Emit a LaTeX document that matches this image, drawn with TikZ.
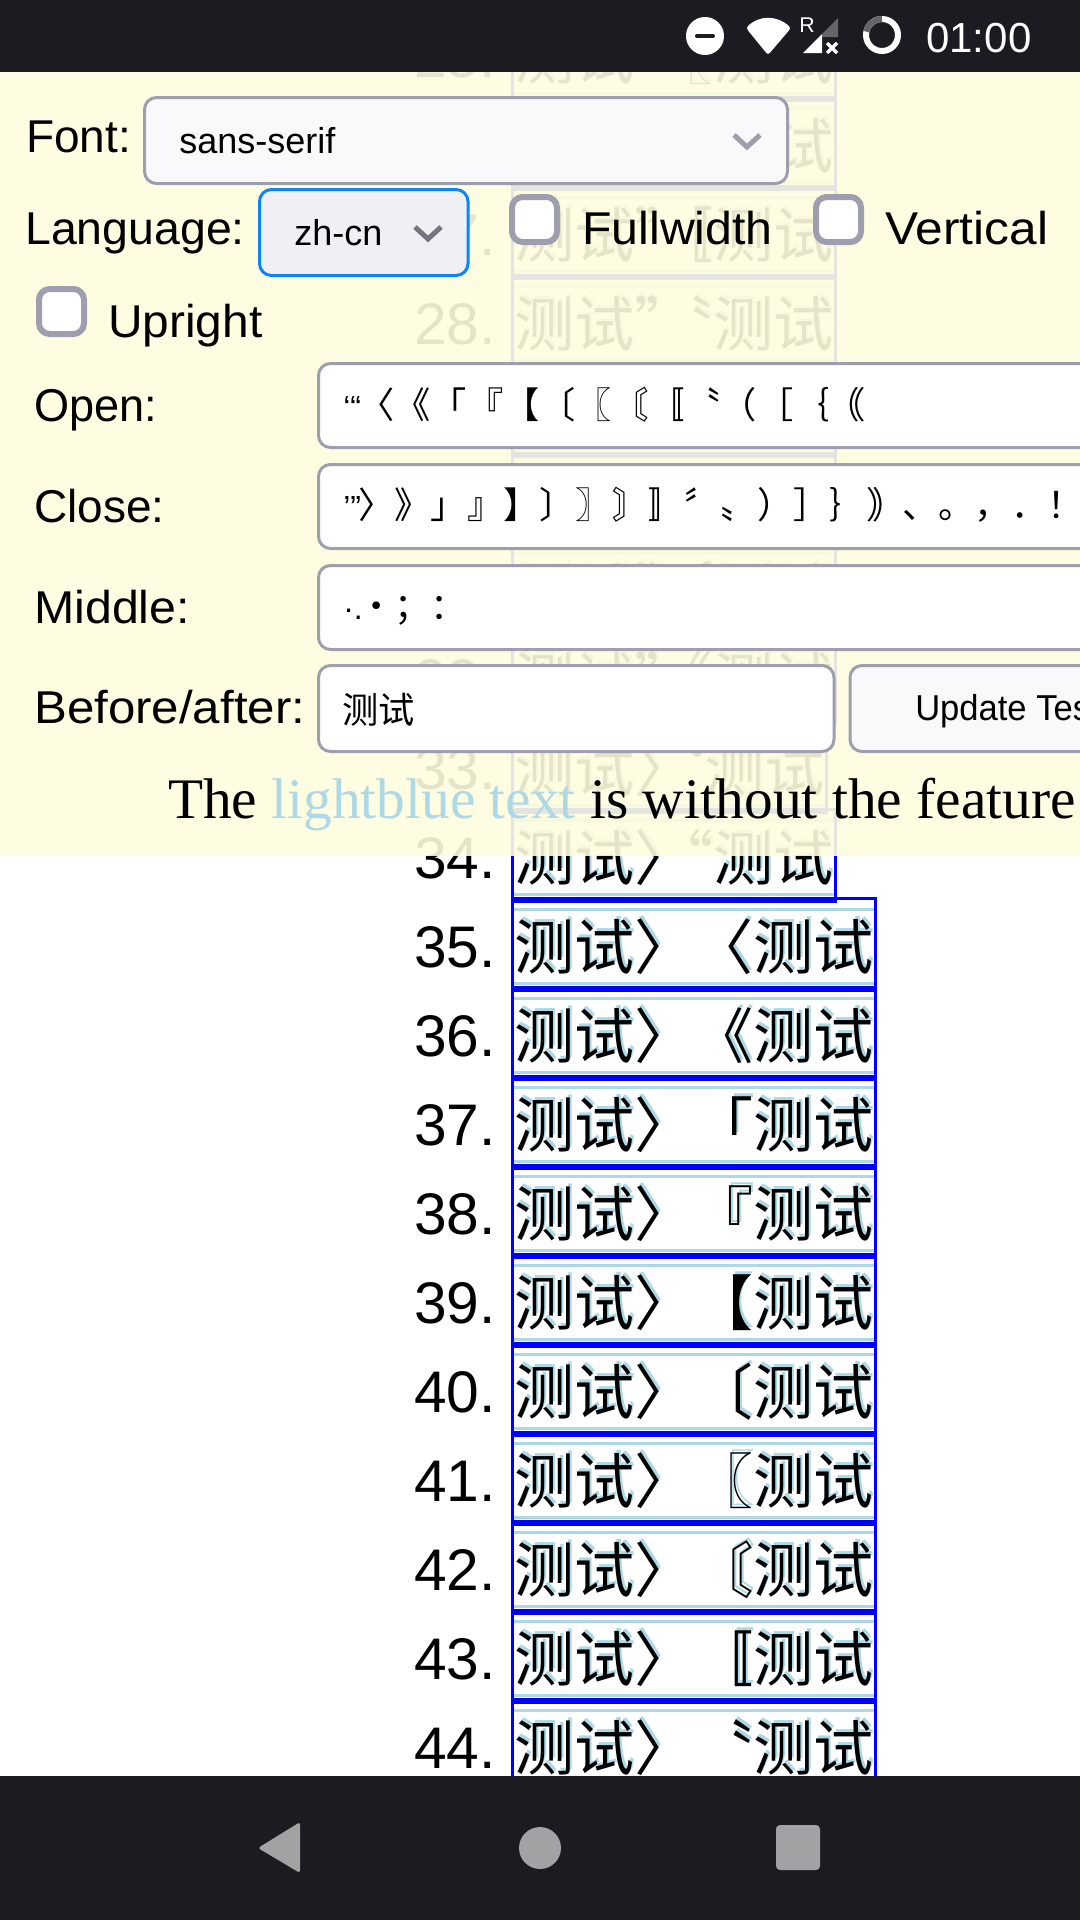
\documentclass[tikz,border=0pt]{standalone}
\usepackage{fontspec}
\setmainfont{Liberation Sans}
\newfontfamily\cjk{Noto Sans CJK SC}
\newfontfamily\capfont{Liberation Serif}
\usepackage{tikz}
\definecolor{barcol}{HTML}{1C1B22}
\definecolor{navcol}{HTML}{A2A2A4}
\definecolor{boxgrey}{HTML}{9F9EAE}
\definecolor{selfill}{HTML}{F9F9FB}
\definecolor{focusfill}{HTML}{F0F0F4}
\definecolor{focusblue}{HTML}{0A84FF}
\definecolor{panelcol}{HTML}{FFFDDE}
\definecolor{lightbl}{HTML}{ADD8E6}
\definecolor{chevdark}{HTML}{75747F}
\definecolor{ringgrey}{HTML}{66666A}
\tikzset{
    Label/.style = {anchor=base west, inner sep=0pt, font=\fontsize{34.5}{40}\selectfont},
    Small/.style = {anchor=base west, inner sep=0pt, font=\fontsize{27}{32}\selectfont},
    Chars/.style = {anchor=base west, inner sep=0pt, font=\cjk\fontsize{27.2}{32}\selectfont},
    Num/.style = {anchor=base east, inner sep=0pt, font=\fontsize{44}{50}\selectfont},
    RowL/.style = {anchor=base west, inner sep=0pt, font=\cjk\fontsize{45}{50}\selectfont},
    RowR/.style = {anchor=base east, inner sep=0pt, font=\cjk\fontsize{45}{50}\selectfont},
    Input/.style = {draw=boxgrey, fill=white, line width=2.25pt, rounded corners=9pt},
    Check/.style = {draw=boxgrey, fill=white, line width=4.5pt, rounded corners=8pt},
    Chevron/.style = {draw=boxgrey, line width=3.75pt}
}
\newcommand{\quotes}[1]{\hbox to 11.25pt{\fontspec{Liberation Sans}\fontsize{24}{26}\selectfont #1\hss}}
\newcommand{\wide}[2]{{\addfontfeature{FakeStretch=#1}#2}}
\begin{document}
\begin{tikzpicture}[x=0.75pt,y=-0.75pt]
\useasboundingbox (0,0) rectangle (1080,1920);
\clip (0,0) rectangle (1080,1920);
\fill[white] (0,0) rectangle (1080,1920);
\foreach \n/\cl/\op/\edge in {25/”/〖/837,26/”/〘/837,27/”/〚/837,28/”/〝/837,29/”/（/837,
    30/”/［/837,31/”/｛/837,32/”/｟/837,33/〉/‘/828,34/〉/“/837,35/〉/〈/877,36/〉/《/877,
    37/〉/「/877,38/〉/『/877,39/〉/【/877,40/〉/〔/877,41/〉/〖/877,42/〉/〘/877,43/〉/〚/877,44/〉/〝/877}{
    \pgfmathsetmacro\rtop{897+89*(\n-35)}
    \pgfmathsetmacro\rbase{\rtop+70}
    \pgfmathsetmacro\cbase{\rtop+72.5}
    \draw[blue, line width=2.25pt] (512.5,\rtop+1.5) rectangle (\edge-1.5,\rtop+93.5);
    \draw[lightbl, line width=2.25pt] (514,\rtop+12.5) -- (\edge-3,\rtop+12.5);
    \draw[lightbl, line width=2.25pt] (514,\rtop+86.5) -- (\edge-3,\rtop+86.5);
    \node[Num] at (496,\rbase) (num\n) {\n.};
    \node[RowL, text=lightbl] at (516,\cbase-3) (shl\n) {测试\cl};
    \node[RowR, text=lightbl] at (\edge-1,\cbase-3) (shr\n) {\op 测试};
    \node[RowL] at (514,\cbase) (lef\n) {测试\cl};
    \node[RowR] at (\edge-3,\cbase) (rig\n) {\op 测试};
}
\fill[panelcol, fill opacity=0.9] (0,72) rectangle (1080,856);
\draw[Input, fill=selfill] (144.5,97.5) rectangle (787.5,183.5);
\draw[Input, draw=focusblue, fill=focusfill] (259.5,189.5) rectangle (468,275.5);
\draw[Chevron] (734,135) -- (747,147) -- (760,135);
\draw[Chevron, draw=chevdark] (415,227) -- (428,239) -- (441,227);
\node[Label] at (26,152) (fontlab) {Font:};
\node[Small] at (179,153) (fontval) {sans-serif};
\node[Label] at (25,244) (langlab) {\wide{1.01}{Language:}};
\node[Small] at (294,245) (langval) {zh-cn};
\draw[Check] (512,197) rectangle (557,242);
\node[Label] at (582,244) (fulllab) {\wide{1.05}{Fullwidth}};
\draw[Check] (816,197) rectangle (861,242);
\node[Label] at (885,244) (vertlab) {\wide{1.08}{Vertical}};
\draw[Check] (39,289) rectangle (84,334);
\node[Label] at (108,337) (uprlab) {\wide{1.04}{Upright}};
\node[Label] at (34,421) (openlab) {\wide{.98}{Open:}};
\node[Label] at (34,522) (closelab) {Close:};
\node[Label] at (34,623) (midlab) {\wide{1.05}{Middle:}};
\node[Label] at (34,723) (beflab) {\wide{1.07}{Before/after:}};
\draw[Input] (318.5,363.5) rectangle (1110,447.5);
\draw[Input] (318.5,464.5) rectangle (1110,548.5);
\draw[Input] (318.5,565.5) rectangle (1110,649.5);
\draw[Input] (318.5,665.5) rectangle (834,751.5);
\draw[Input, fill=selfill] (850,665.5) rectangle (1110,751.5);
\node[Chars] at (343,418) (openval) {\quotes{‘“}〈《「『【〔〖〘〚〝（［｛｟};
\node[Chars] at (343,518) (closeval) {\quotes{’”}〉》」』】〕〗〙〛〞〟）］｝｠、。，．！};
\node[Chars] at (343,619) (midval) {\quotes{·.}・；：};
\node[Chars] at (342,723) (befval) {测试};
\node[Small] at (915,720) (update) {\wide{.96}{Update Test}};
\node[anchor=base west, inner sep=0pt, font=\capfont\fontsize{43}{48}\selectfont] at (168,818) (caption)
    {The \textcolor{lightbl}{lightblue text} is without the feature};
\fill[barcol] (0,0) rectangle (1080,72);
\fill[white] (705,36) circle [radius=19];
\draw[barcol, line width=3pt, line cap=round] (697,36) -- (713,36);
\fill[white, rounded corners=2pt] (768,55) -- (746,28) .. controls (759,15) and (777,15) .. (791,28) -- cycle;
\node[anchor=base west, inner sep=0pt, text=white, font=\fontsize{16}{18}\selectfont] at (799,32) (roam) {R};
\fill[white] (803,53) -- (822,34) -- (822,53) -- cycle;
\fill[ringgrey] (822,34) -- (838,18) -- (838,37) -- (822,37) -- cycle;
\draw[white, line width=2.5pt] (827,43) -- (837,53) (837,43) -- (827,53);
\draw[white, line width=4.5pt] (882,35) circle [radius=16];
\draw[ringgrey, line width=4.5pt] ([shift={(90:12pt)}]882,35) arc [start angle=90, end angle=168, radius=12pt];
\node[anchor=base west, inner sep=0pt, text=white, font=\fontsize{31.5}{36}\selectfont] at (926,52) (clock) {01:00};
\fill[barcol] (0,1776) rectangle (1080,1920);
\fill[navcol, rounded corners=2pt] (258,1848) -- (300,1822) -- (300,1873) -- cycle;
\fill[navcol] (540,1848) circle [radius=21];
\fill[navcol, rounded corners=3pt] (776,1825) rectangle (820,1870);
\end{tikzpicture}
\end{document}
